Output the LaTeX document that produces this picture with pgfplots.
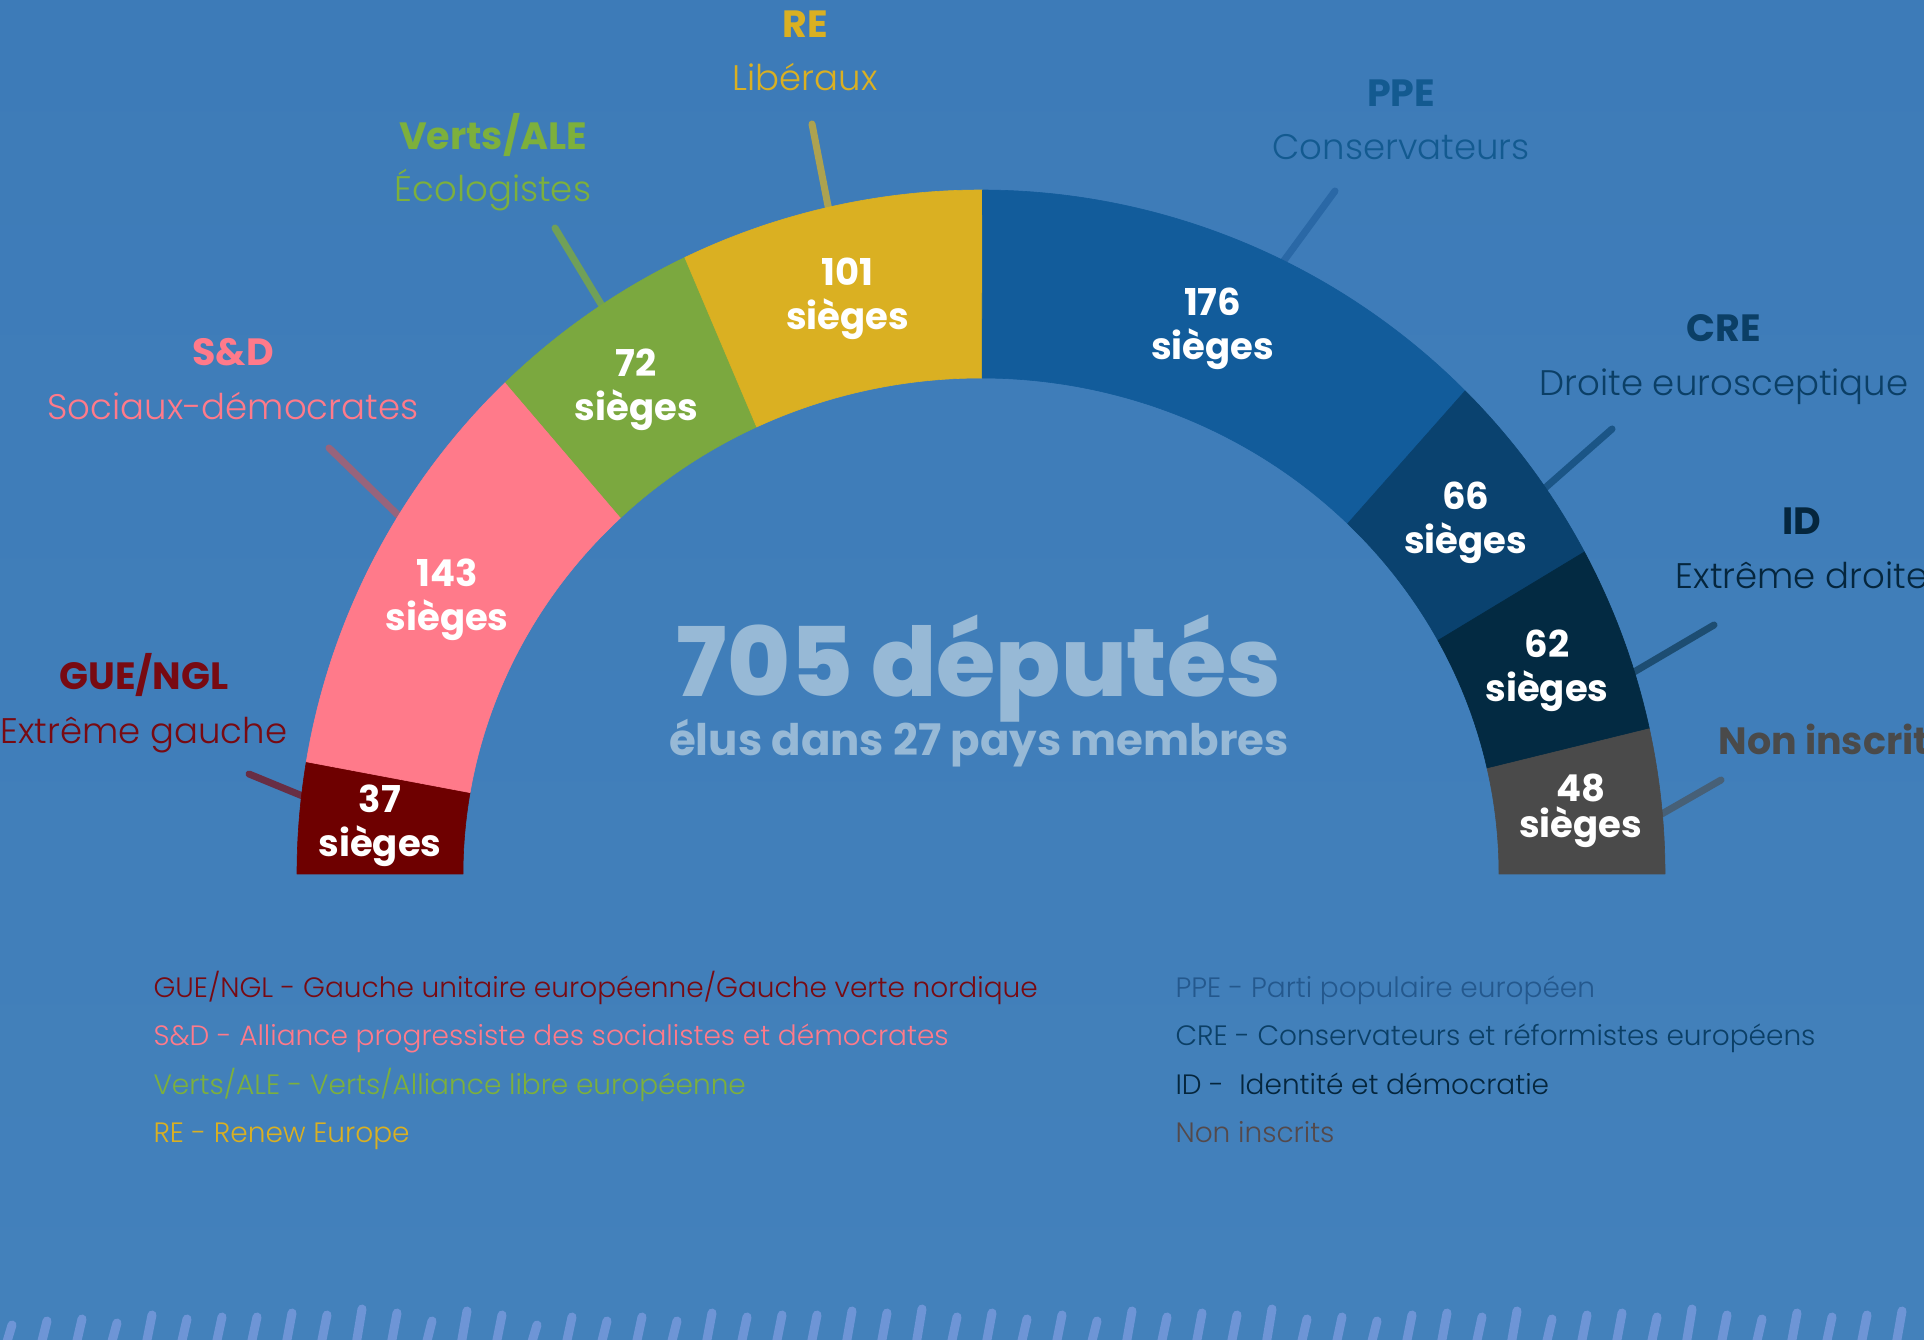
\documentclass[border=0pt]{standalone}
\usepackage{pgfplots}
\pgfplotsset{compat=1.18}
\usepackage{pgfplotstable}
\usepackage{fontspec}
\setmainfont{Poppins}
\IfFontExistsTF{Poppins Light}{\newfontfamily\lightf{Poppins Light}}{\newfontfamily\lightf{Poppins}}
\IfFontExistsTF{Poppins ExtraBold}{\newfontfamily\xboldf{Poppins ExtraBold}}{\newfontfamily\xboldf{Poppins Bold}}

\definecolor{bgtop}{HTML}{3D7BB8}
\definecolor{bgbot}{HTML}{4381BB}
\definecolor{cGUE}{HTML}{6E0000}
\definecolor{cSD}{HTML}{FF7A8A}
\definecolor{cVE}{HTML}{7BA83F}
\definecolor{cRE}{HTML}{DAB022}
\definecolor{cPPE}{HTML}{125C9B}
\definecolor{cCRE}{HTML}{0A426F}
\definecolor{cID}{HTML}{032A42}
\definecolor{cNI}{HTML}{4A4A4A}
\definecolor{tGUE}{HTML}{780A12}
\definecolor{tSD}{HTML}{FF7A8A}
\definecolor{tVE}{HTML}{7DB03C}
\definecolor{tRE}{HTML}{DAB022}
\definecolor{tPPE}{HTML}{135A90}
\definecolor{tCRE}{HTML}{0B3F66}
\definecolor{tID}{HTML}{05263D}
\definecolor{tNI}{HTML}{4A4A4A}
\definecolor{lPPE}{HTML}{2A68A6}
\definecolor{gNI}{HTML}{54494B}
\definecolor{centre}{HTML}{97B9D6}
\definecolor{deco}{HTML}{6E95D6}

% seats per group, left to right
\pgfplotstableread{
idx seats
0 37
1 143
2 72
3 101
4 176
5 66
6 62
7 48
}\seattable
\pgfplotstablegetelem{0}{seats}\of\seattable\edef\sA{\pgfplotsretval}
\pgfplotstablegetelem{1}{seats}\of\seattable\edef\sB{\pgfplotsretval}
\pgfplotstablegetelem{2}{seats}\of\seattable\edef\sC{\pgfplotsretval}
\pgfplotstablegetelem{3}{seats}\of\seattable\edef\sD{\pgfplotsretval}
\pgfplotstablegetelem{4}{seats}\of\seattable\edef\sE{\pgfplotsretval}
\pgfplotstablegetelem{5}{seats}\of\seattable\edef\sF{\pgfplotsretval}
\pgfplotstablegetelem{6}{seats}\of\seattable\edef\sG{\pgfplotsretval}
\pgfplotstablegetelem{7}{seats}\of\seattable\edef\sH{\pgfplotsretval}
\pgfmathsetmacro\tot{\sA+\sB+\sC+\sD+\sE+\sF+\sG+\sH}
\pgfmathsetmacro\k{180/\tot}
\pgfmathsetmacro\bA{180}
\pgfmathsetmacro\bB{\bA-\k*\sA}
\pgfmathsetmacro\bC{\bB-\k*\sB}
\pgfmathsetmacro\bD{\bC-\k*\sC}
\pgfmathsetmacro\bE{\bD-\k*\sD}
\pgfmathsetmacro\bF{\bE-\k*\sE}
\pgfmathsetmacro\bG{\bF-\k*\sF}
\pgfmathsetmacro\bH{\bG-\k*\sG}
\pgfmathsetmacro\bI{0}

\def\cx{981}\def\cy{465}
\def\Ro{684}\def\Rx{518}\def\Ry{496}
\def\Mx{603}\def\My{590}

\newcommand\seatwedge[3]{%
  \filldraw[fill=#3,draw=#3,line width=0.6pt,line join=round]
   (axis cs:{\cx+\Ro*cos(#1)},{\cy+\Ro*sin(#1)})
   arc[start angle=#1,end angle=#2,radius=\Ro pt]
   -- (axis cs:{\cx+\Rx*cos(#2)},{\cy+\Ry*sin(#2)})
   arc[start angle=#2,end angle=#1,x radius=\Rx pt,y radius=\Ry pt] -- cycle;}
\newcommand\seatlabel[4]{%
  \node[text=white,align=center,font=\bfseries\fontsize{37}{#4}\selectfont]
   at (axis cs:{\cx+\Mx*cos((#1+#2)/2)},{\cy+\My*sin((#1+#2)/2)}) {#3\\sièges};}
\newcommand\grouplabel[6]{% x, baseline1, baseline2, colour, bold, light
  \node[anchor=base,text=#4,font=\bfseries\fontsize{38}{44}\selectfont] at (axis cs:#1,#2) {#5};
  \node[anchor=base,text=#4,font=\lightf\fontsize{35.5}{44}\selectfont] at (axis cs:#1,#3) {#6};}

\begin{document}
\begin{tikzpicture}
\useasboundingbox (0,0) rectangle (1924pt,1339pt);
\clip (0,0) rectangle (1924pt,1339pt);
\begin{axis}[
  x=1pt, y=1pt, xmin=0, xmax=1924, ymin=0, ymax=1339,
  hide axis, scale only axis, clip=false, at={(0,0)}, anchor=south west]
  \shade[top color=bgtop,bottom color=bgbot] (axis cs:0,0) rectangle (axis cs:1924,1339);
  % leader lines
  \draw[line width=7pt,line cap=round,color=tGUE!70!bgbot] (axis cs:249,565) -- (axis cs:305,542);
  \draw[line width=7pt,line cap=round,color=cSD!65!bgbot!80!black] (axis cs:329,891) -- (axis cs:400,822);
  \draw[line width=7pt,line cap=round,color=cVE!80!bgbot] (axis cs:555,1111) -- (axis cs:604,1030);
  \draw[line width=7pt,line cap=round,color=cRE!70!bgbot] (axis cs:812,1215) -- (axis cs:829,1128);
  \draw[line width=7pt,line cap=round,color=lPPE] (axis cs:1335,1148) -- (axis cs:1283,1077);
  \draw[line width=7pt,line cap=round,color=cCRE!70!bgbot] (axis cs:1612,910) -- (axis cs:1545,851);
  \draw[line width=7pt,line cap=round,color=cID!60!bgbot] (axis cs:1714,714) -- (axis cs:1634,667);
  \draw[line width=7pt,line cap=round,color=cNI!60!bgbot] (axis cs:1721,559) -- (axis cs:1660,524);
  % hemicycle
  \seatwedge{\bA}{\bB}{cGUE}
  \seatwedge{\bB}{\bC}{cSD}
  \seatwedge{\bC}{\bD}{cVE}
  \seatwedge{\bD}{\bE}{cRE}
  \seatwedge{\bE}{\bF}{cPPE}
  \seatwedge{\bF}{\bG}{cCRE}
  \seatwedge{\bG}{\bH}{cID}
  \seatwedge{\bH}{\bI}{cNI}
  \seatlabel{\bA}{\bB}{\sA}{44}
  \seatlabel{\bB}{\bC}{\sB}{44}
  \seatlabel{\bC}{\bD}{\sC}{44}
  \seatlabel{\bD}{\bE}{\sD}{44}
  \seatlabel{\bE}{\bF}{\sE}{44}
  \seatlabel{\bF}{\bG}{\sF}{44}
  \seatlabel{\bG}{\bH}{\sG}{44}
  \seatlabel{\bH}{\bI}{\sH}{36}
  % centre text
  \node[anchor=base,text=centre,font=\xboldf\fontsize{96}{100}\selectfont] at (axis cs:979,642) {705 députés};
  \node[anchor=base,text=centre,font=\bfseries\fontsize{43.5}{48}\selectfont] at (axis cs:979,583) {élus dans 27 pays membres};
  % group labels
  \grouplabel{805}{1301}{1248}{tRE}{RE}{Libéraux}
  \grouplabel{493}{1189}{1137}{tVE}{Verts/ALE}{Écologistes}
  \grouplabel{233}{973}{919}{tSD}{S\&D}{Sociaux-démocrates}
  \grouplabel{144}{649}{595}{tGUE}{GUE/NGL}{Extrême gauche}
  \grouplabel{1401}{1232}{1179}{tPPE}{PPE}{Conservateurs}
  \grouplabel{1724}{997}{943}{tCRE}{CRE}{Droite eurosceptique}
  \grouplabel{1802}{804}{750}{tID}{ID}{Extrême droite}
  \node[anchor=base west,text=tNI,font=\bfseries\fontsize{38}{44}\selectfont] at (axis cs:1715,584) {Non inscrits};
  % legend
  \begin{scope}[every node/.style={anchor=base west,font=\lightf\fontsize{28}{34}\selectfont}]
  \node[text=tGUE] at (axis cs:150,341) {GUE/NGL - Gauche unitaire européenne/Gauche verte nordique};
  \node[text=tSD] at (axis cs:150,293) {S\&D - Alliance progressiste des socialistes et démocrates};
  \node[text=tVE] at (axis cs:150,245) {Verts/ALE - Verts/Alliance libre européenne};
  \node[text=tRE] at (axis cs:150,197) {RE - Renew Europe};
  \node[text=lPPE!85!black] at (axis cs:1172,341) {PPE - Parti populaire européen};
  \node[text=tCRE] at (axis cs:1172,293) {CRE - Conservateurs et réformistes européens};
  \node[text=tID] at (axis cs:1172,245) {ID -\ \ Identité et démocratie};
  \node[text=gNI] at (axis cs:1172,197) {Non inscrits};
  \end{scope}
\end{axis}
% decorative strokes along the bottom edge
\foreach \h [count=\i from 0] in {16,20,22,18,26,22,24,24,28,26,32,28,20,30,26,16,24,20,24,20,28,24,26,26,30,28,32,24,28,22,26,20,30,24,28,26,32,22,24,20,26,28,24,30,22,26,28,24,32,26,22,28,24,26,30}
  \draw[line width=9pt,line cap=round,color=deco] ({\i*35pt+6pt},-6pt) -- ++(6pt,{\h*1pt+4pt});
\end{tikzpicture}
\end{document}
